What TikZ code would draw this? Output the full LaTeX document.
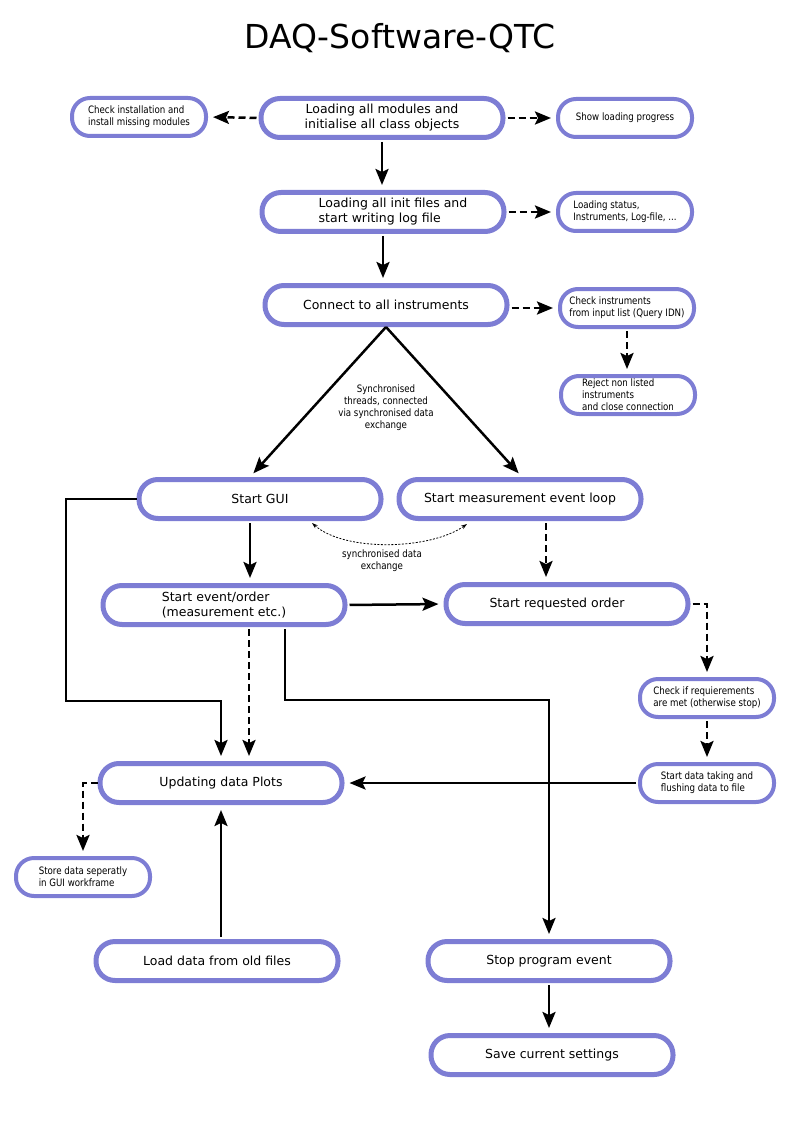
\documentclass[tikz,border=0pt]{standalone}
\usepackage{fontspec}
\setmainfont{DejaVu Sans}
\newfontfamily\condfont[FakeStretch=0.85]{DejaVu Sans}
\usetikzlibrary{arrows.meta,calc}
\definecolor{boxc}{RGB}{125,125,212}
\begin{document}
\begin{tikzpicture}[x=1pt,y=-1pt,
 big/.style={draw=boxc,line width=5pt,rounded corners=19pt,fill=white,minimum width=242pt,minimum height=39pt,align=center,font=\fontsize{12.5}{15}\selectfont,inner sep=0pt},
 small/.style={draw=boxc,line width=4pt,rounded corners=18pt,fill=white,minimum width=134pt,minimum height=38pt,align=left,font=\condfont\fontsize{10.2}{12}\selectfont,inner sep=0pt},
 arr/.style={line width=2.5pt,-{Stealth[length=16pt,width=13pt,inset=3pt]},shorten >=5pt,shorten <=2pt},
 darr/.style={arr,dash pattern=on 7pt off 4pt},
 lbl/.style={font=\condfont\fontsize{10.2}{12}\selectfont,align=center},
]
\useasboundingbox (0,0) rectangle (794,1123);
\node[font=\fontsize{33}{38}\selectfont] (title) at (400,38) {DAQ-Software-QTC};

\node[big] (B1) at (382,118) {Loading all modules and\\initialise all class objects};
\node[small] (B1L) at (139,117) {Check installation and\\install missing modules};
\node[small] (B1R) at (625,118) {Show loading progress};
\node[big,align=left] (B2) at (383,212) {\hspace*{20pt}Loading all init files and\\\hspace*{20pt}start writing log file};
\node[small] (B2R) at (625,212) {Loading status,\\Instruments, Log-file, ...};
\node[big] (B3) at (386,305) {Connect to all instruments};
\node[small] (B3R) at (627,308) {Check instruments\\from input list (Query IDN)};
\node[small] (B3RR) at (628,395) {Reject non listed\\instruments\\and close connection};
\node[lbl] (L1) at (386,408) {Synchronised\\threads, connected\\via synchronised data\\exchange};
\node[big] (B4) at (260,499) {Start GUI};
\node[big] (B5) at (520,499) {Start measurement event loop};
\node[lbl] (L2) at (382,561) {synchronised data\\exchange};
\node[big,align=left] (B6) at (224,605) {Start event/order\\(measurement etc.)};
\node[big] (B7) at (567,604) {Start requested order\hspace*{20pt}};
\node[small] (B8) at (707,698) {Check if requierements\\are met (otherwise stop)};
\node[small] (B9) at (707,783) {Start data taking and\\flushing data to file};
\node[big] (B10) at (221,783) {Updating data Plots};
\node[small] (B11) at (83,877) {Store data seperatly\\in GUI workframe};
\node[big] (B12) at (217,961) {Load data from old files};
\node[big] (B13) at (549,961) {Stop program event};
\node[big] (B14) at (552,1055) {Save current settings};

\coordinate (c1) at (66,701);
\coordinate (c2) at (400,700);

\draw[darr] (B1.west) -- (B1L.east);
\draw[darr] (B1.east) -- (B1R.west);
\draw[arr] (B1.south) -- (B1.south |- B2.north);
\draw[darr] (B2.east) -- (B2R.west);
\draw[arr] (B2.south) -- (B2.south |- B3.north);
\draw[darr] (B3.east |- B3R.west) -- (B3R.west);
\draw[darr] (B3R.south) -- (B3R.south |- B3RR.north);
\draw[arr,shorten <=0pt] (B3.south) -- ([xshift=-10pt]B4.north);
\draw[arr,shorten <=0pt] (B3.south) -- ([xshift=2pt]B5.north);
\draw[arr] ([xshift=-10pt]B4.south) -- ([xshift=-10pt]B4.south |- B6.north);
\draw[darr] ([xshift=26pt]B5.south) -- ([xshift=26pt]B5.south |- B7.north);
\draw[line width=0.8pt,dash pattern=on 2pt off 1.5pt,{Stealth[length=6pt,width=4pt]}-{Stealth[length=6pt,width=4pt]}]
  ([xshift=52pt,yshift=-2pt]B4.south) .. controls (345,552) and (430,550) .. ([xshift=-53pt,yshift=-3pt]B5.south);
\draw[arr] (B6.east) -- (B7.west);
\draw[darr] (B7.east) -| (B8.north);
\draw[darr] (B8.south) -- (B8.south |- B9.north);
\draw[arr] (B9.west) -- (B10.east);
\draw[arr,shorten <=0pt] (B4.west) -| (c1) -| (B10.north);
\draw[darr] ([xshift=25pt]B6.south) -- ([xshift=25pt]B6.south |- B10.north);
\draw[arr] ([xshift=61pt]B6.south) |- (c2) -| (B13.north);
\draw[darr,shorten <=0pt] (B10.west) -| (B11.north);
\draw[arr] (B12.north -| B10.south) -- (B10.south);
\draw[arr] (B13.south) -- (B13.south |- B14.north);
\end{tikzpicture}
\end{document}
